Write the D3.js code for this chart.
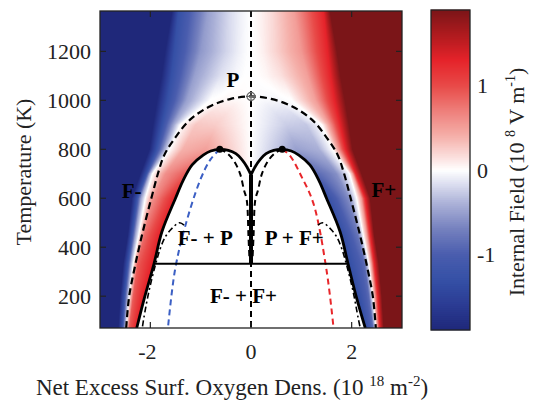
<!DOCTYPE html>
<html><head><meta charset="utf-8">
<script src="https://cdn.jsdelivr.net/npm/d3@7"></script>
<style>
body{margin:0;background:#fff}
svg{display:block}
text{font-family:"Liberation Serif","Times New Roman",serif;fill:#222}
</style>
</head><body>
<svg id="chart" width="534" height="401"></svg>
<script>
// ---------------- data ----------------
const xDomain = [-3, 3];
const yDomain = [70, 1365];
const cbDomain = [-1.89, 1.89];
const xTicks = [-2, 0, 2];
const yTicks = [200, 400, 600, 800, 1000, 1200];
const cbTicks = [-1, 0, 1];

// colour map (internal field, 1e8 V/m)
const cmapValues = [-1.89, -1.6, -1.3, -1.0, -0.7, -0.4, -0.15, 0, 0.15, 0.4, 0.7, 1.0, 1.3, 1.55, 1.89];
const cmapColors = ["#1f287a", "#2b3b93", "#3550a6", "#4a5dae", "#7480be", "#aab0d7", "#dfe1f1", "#ffffff",
                    "#fbe0de", "#f5b0aa", "#ee7f7b", "#e84a48", "#e5232a", "#b81c20", "#7b1518"];

// field, left half (x<=0); rows of [x, value] colour stops
const fieldT = [70, 200, 334, 450, 600, 700, 800, 900, 1000, 1100, 1200, 1365];
const fieldStops = [
  [[-2.64,-1.9],[-2.56,-1.3],[-2.51,-0.5],[-2.48,0],[-2.42,0.9],[-2.26,1.35]],
  [[-2.60,-1.9],[-2.52,-1.3],[-2.46,-0.5],[-2.42,0],[-2.34,0.9],[-2.12,1.35]],
  [[-2.54,-1.9],[-2.45,-1.3],[-2.39,-0.5],[-2.34,0],[-2.25,0.9],[-1.92,1.35]],
  [[-2.45,-1.9],[-2.37,-1.3],[-2.30,-0.5],[-2.23,0],[-2.12,0.8],[-1.78,1.35]],
  [[-2.37,-1.9],[-2.27,-1.3],[-2.19,-0.5],[-2.10,0],[-1.95,0.6],[-1.50,1.3]],
  [[-2.20,-1.9],[-2.08,-1.3],[-2.02,-0.5],[-1.96,0],[-1.70,0.6],[-1.30,0.9]],
  [[-2.02,-1.9],[-1.88,-1.3],[-1.73,-0.5],[-1.62,0],[-1.35,0.4],[-0.90,0.5]],
  [[-1.95,-1.9],[-1.77,-1.3],[-1.55,-0.5],[-1.41,0],[-1.10,0.28],[-0.70,0.25]],
  [[-1.87,-1.9],[-1.66,-1.3],[-1.28,-0.5],[-0.81,0],[-0.50,0.04],[-0.25,0.03]],
  [[-1.78,-1.9],[-1.58,-1.3],[-1.12,-0.5],[-0.60,-0.15],[-0.30,-0.04],[-0.10,0.0]],
  [[-1.71,-1.9],[-1.52,-1.3],[-1.00,-0.55],[-0.50,-0.22],[-0.25,-0.08],[-0.10,-0.02]],
  [[-1.57,-1.9],[-1.44,-1.3],[-0.85,-0.5],[-0.40,-0.17],[-0.20,-0.07],[-0.10,-0.03]]
];

// phase boundaries [x, T]
const solidLeft = [[-2.27,70],[-2.12,191],[-1.93,330],[-1.77,463],[-1.50,600],[-1.35,672],[-1.17,736],[-0.95,776],[-0.80,793],[-0.62,800],
                   [-0.45,796],[-0.30,782],[-0.18,758],[-0.08,728],[0,695]];
const solidRight = [[0,695],[0.08,728],[0.18,758],[0.30,782],[0.45,796],[0.62,800],[0.80,793],[0.95,776],[1.17,736],[1.35,672],
                    [1.50,600],[1.77,463],[1.93,330],[2.10,191],[2.27,70]];
const outerDashed = [[-2.48,70],[-2.42,200],[-2.30,327],[-2.15,463],[-1.98,600],[-1.85,700],[-1.72,778],[-1.51,846],[-1.21,921],
                     [-0.81,976],[-0.40,1006],[0,1016],[0.40,1006],[0.81,976],[1.21,921],[1.51,846],[1.72,778],[1.85,700],
                     [1.98,600],[2.15,463],[2.30,327],[2.42,200],[2.48,70]];
const innerDashedLeft = [[-0.62,800],[-0.50,788],[-0.35,756],[-0.22,702],[-0.14,634],[-0.085,593],[-0.05,443],[-0.03,350]];
const innerDashedRight = [[0.62,800],[0.50,788],[0.35,756],[0.22,702],[0.14,634],[0.085,593],[0.05,443],[0.03,350]];
const blueDashed = [[-0.62,800],[-0.80,760],[-1.01,674],[-1.31,484],[-1.51,307],[-1.65,70]];
const redDashed = [[0.62,800],[0.77,775],[1.00,690],[1.24,579],[1.50,307],[1.64,70]];
const dashDotLeft = [[-1.33,490],[-1.42,500],[-1.57,477],[-1.70,443],[-1.80,396],[-1.90,327],[-2.03,218],[-2.13,110],[-2.16,70]];
const dashDotRight = [[1.33,490],[1.42,500],[1.57,477],[1.70,443],[1.80,396],[1.90,327],[2.03,218],[2.13,110],[2.17,70]];
const zeroSolidT = [334, 695];
const tieLine = [[-1.93,332],[1.93,332]];
const peaks = [[-0.62,800],[0.62,800]];
const criticalPoint = [0, 1016];
const phaseLabels = [
  {text:"P", x:-0.36, T:1054},
  {text:"F-", x:-2.37, T:601},
  {text:"F+", x:2.64, T:605},
  {text:"F- + P", x:-0.91, T:409},
  {text:"P + F+", x:0.86, T:409},
  {text:"F- + F+", x:-0.15, T:172}
];

// ---------------- drawing ----------------
const svg = d3.select("#chart");
const L = 100, R = 402, TOP = 11, BOT = 328;
const x = d3.scaleLinear().domain(xDomain).range([L, R]);
const y = d3.scaleLinear().domain(yDomain).range([BOT, TOP]);
const cmap = d3.scaleLinear().domain(cmapValues).range(cmapColors).interpolate(d3.interpolateRgb).clamp(true);

// colour LUT
const lut = d3.range(512).map(i => d3.rgb(cmap(cbDomain[0] + (cbDomain[1]-cbDomain[0]) * i / 511)));
function colorOf(v){
  let i = Math.round((v - cbDomain[0]) / (cbDomain[1]-cbDomain[0]) * 511);
  return lut[Math.max(0, Math.min(511, i))];
}

// field raster
const W = R - L, H = BOT - TOP;
const cv = document.createElement("canvas");
cv.width = W; cv.height = H;
const ctx = cv.getContext("2d");
const img = ctx.createImageData(W, H);
for (let j = 0; j < H; j++) {
  const T = y.invert(TOP + j + 0.5);
  let k = d3.bisectRight(fieldT, T) - 1;
  k = Math.max(0, Math.min(fieldT.length - 2, k));
  let t = (T - fieldT[k]) / (fieldT[k+1] - fieldT[k]);
  t = Math.max(0, Math.min(1, t));
  const a = fieldStops[k], b = fieldStops[k+1];
  const st = [[-3, -1.9]].concat(a.map((s, i) => [s[0] + (b[i][0]-s[0])*t, s[1] + (b[i][1]-s[1])*t]), [[0, 0]]);
  for (let i = 0; i < W; i++) {
    const xv = x.invert(L + i + 0.5);
    const ax = -Math.abs(xv);
    let v = 0;
    for (let m = 0; m < st.length - 1; m++) {
      if (ax >= st[m][0] && ax <= st[m+1][0]) {
        const d = st[m+1][0] - st[m][0];
        const f = d > 0 ? (ax - st[m][0]) / d : 0;
        v = st[m][1] + (st[m+1][1] - st[m][1]) * f;
        break;
      }
    }
    if (xv > 0) v = -v;
    const c = colorOf(v);
    const p = (j * W + i) * 4;
    img.data[p] = c.r; img.data[p+1] = c.g; img.data[p+2] = c.b; img.data[p+3] = 255;
  }
}
ctx.putImageData(img, 0, 0);

svg.append("clipPath").attr("id", "plotclip").append("rect")
  .attr("x", L).attr("y", TOP).attr("width", W).attr("height", H);

const plot = svg.append("g").attr("clip-path", "url(#plotclip)");
plot.append("image").attr("x", L).attr("y", TOP).attr("width", W).attr("height", H)
  .attr("preserveAspectRatio", "none").attr("href", cv.toDataURL());

const line = d3.line().x(d => x(d[0])).y(d => y(d[1])).curve(d3.curveCatmullRom.alpha(0.5));

// two-phase interior (white)
plot.append("path").attr("d", line(solidLeft.concat(solidRight.slice(1))) + "Z").attr("fill", "#fff");

// x = 0 dashed line
plot.append("line").attr("x1", x(0)).attr("x2", x(0)).attr("y1", TOP).attr("y2", BOT)
  .attr("stroke", "#000").attr("stroke-width", 2).attr("stroke-dasharray", "6,4");
// thick solid x = 0 segment
plot.append("line").attr("x1", x(0)).attr("x2", x(0)).attr("y1", y(zeroSolidT[0])).attr("y2", y(zeroSolidT[1]))
  .attr("stroke", "#000").attr("stroke-width", 4);

// coloured dashed lines
plot.append("path").attr("d", line(blueDashed)).attr("fill", "none").attr("stroke", "#3b5fc4")
  .attr("stroke-width", 2).attr("stroke-dasharray", "6,4");
plot.append("path").attr("d", line(redDashed)).attr("fill", "none").attr("stroke", "#e8262a")
  .attr("stroke-width", 2).attr("stroke-dasharray", "6,4");

// dash-dot
[dashDotLeft, dashDotRight].forEach(dd => plot.append("path").attr("d", line(dd)).attr("fill", "none")
  .attr("stroke", "#000").attr("stroke-width", 1.6).attr("stroke-dasharray", "6,3,2,3"));

// outer dashed and inner dashed
plot.append("path").attr("d", line(outerDashed)).attr("fill", "none").attr("stroke", "#000")
  .attr("stroke-width", 2.2).attr("stroke-dasharray", "7,4");
[innerDashedLeft, innerDashedRight].forEach(dd => plot.append("path").attr("d", line(dd)).attr("fill", "none")
  .attr("stroke", "#000").attr("stroke-width", 2).attr("stroke-dasharray", "6,4"));

// solid boundaries
[solidLeft, solidRight].forEach(dd => plot.append("path").attr("d", line(dd)).attr("fill", "none")
  .attr("stroke", "#000").attr("stroke-width", 2.8));
plot.append("line").attr("x1", x(tieLine[0][0])).attr("x2", x(tieLine[1][0]))
  .attr("y1", y(tieLine[0][1])).attr("y2", y(tieLine[1][1])).attr("stroke", "#000").attr("stroke-width", 2);

// peak dots
plot.selectAll("circle.peak").data(peaks).join("circle").attr("class", "peak")
  .attr("cx", d => x(d[0])).attr("cy", d => y(d[1])).attr("r", 3.5).attr("fill", "#000");
// critical point marker
const cp = plot.append("g").attr("transform", `translate(${x(criticalPoint[0])},${y(criticalPoint[1])})`);
cp.append("circle").attr("r", 4).attr("fill", "none").attr("stroke", "#666").attr("stroke-width", 1.2);
cp.append("path").attr("d", "M-5,0H5M0,-5V5").attr("stroke", "#666").attr("stroke-width", 1.2);

// phase labels
svg.append("g").selectAll("text").data(phaseLabels).join("text")
  .attr("x", d => x(d.x)).attr("y", d => y(d.T)).attr("text-anchor", "middle")
  .attr("font-weight", "bold").attr("font-size", 21).style("fill", "#000").text(d => d.text);

// frame
svg.append("rect").attr("x", L).attr("y", TOP).attr("width", W).attr("height", H)
  .attr("fill", "none").attr("stroke", "#222").attr("stroke-width", 1.3);

// ticks (inward, all sides)
const tk = 6;
const axG = svg.append("g").attr("stroke", "#222").attr("stroke-width", 1.2);
xTicks.forEach(v => {
  axG.append("line").attr("x1", x(v)).attr("x2", x(v)).attr("y1", BOT).attr("y2", BOT - tk);
  axG.append("line").attr("x1", x(v)).attr("x2", x(v)).attr("y1", TOP).attr("y2", TOP + tk);
});
yTicks.forEach(v => {
  axG.append("line").attr("y1", y(v)).attr("y2", y(v)).attr("x1", L).attr("x2", L + tk);
  axG.append("line").attr("y1", y(v)).attr("y2", y(v)).attr("x1", R).attr("x2", R - tk);
});
svg.append("g").selectAll("text").data(xTicks).join("text")
  .attr("x", d => x(d) - (d < 0 ? 3 : 0)).attr("y", 359).attr("text-anchor", "middle").attr("font-size", 22)
  .text(d => d);
svg.append("g").selectAll("text").data(yTicks).join("text")
  .attr("x", 91).attr("y", d => y(d)).attr("dy", "0.35em").attr("text-anchor", "end").attr("font-size", 22)
  .text(d => d);

// axis titles
const xt = svg.append("text").attr("x", 232).attr("y", 395).attr("text-anchor", "middle").attr("font-size", 23);
xt.append("tspan").text("Net Excess Surf. Oxygen Dens. (10 ");
xt.append("tspan").attr("font-size", 15).attr("dy", -9).text("18");
xt.append("tspan").attr("dy", 9).text(" m");
xt.append("tspan").attr("font-size", 15).attr("dy", -9).text("-2");
xt.append("tspan").attr("dy", 9).text(")");

svg.append("text").attr("transform", "translate(31,172) rotate(-90)").attr("text-anchor", "middle")
  .attr("font-size", 22).text("Temperature (K)");

// colour bar
const cbL = 431, cbR = 470, cbT = 10, cbB = 330;
const cy = d3.scaleLinear().domain(cbDomain).range([cbB, cbT]);
const nSteps = 160;
const cbVals = d3.range(nSteps).map(i => cbDomain[0] + (cbDomain[1]-cbDomain[0]) * (i + 0.5) / nSteps);
const step = (cbB - cbT) / nSteps;
svg.append("g").selectAll("rect").data(cbVals).join("rect")
  .attr("x", cbL).attr("width", cbR - cbL).attr("y", d => cy(d) - step/2 - 0.3).attr("height", step + 0.6)
  .attr("fill", d => cmap(d));
svg.append("rect").attr("x", cbL).attr("y", cbT).attr("width", cbR - cbL).attr("height", cbB - cbT)
  .attr("fill", "none").attr("stroke", "#222").attr("stroke-width", 1.3);
cbTicks.forEach(v => {
  axG.append("line").attr("x1", cbL).attr("x2", cbL + 4).attr("y1", cy(v)).attr("y2", cy(v));
  axG.append("line").attr("x1", cbR).attr("x2", cbR - 4).attr("y1", cy(v)).attr("y2", cy(v));
});
svg.append("g").selectAll("text").data(cbTicks).join("text")
  .attr("x", 477).attr("y", d => cy(d)).attr("dy", "0.35em").attr("font-size", 22).text(d => d);

const ct = svg.append("text").attr("transform", "translate(524,182) rotate(-90)").attr("text-anchor", "middle")
  .attr("font-size", 22);
ct.append("tspan").text("Internal Field (10 ");
ct.append("tspan").attr("font-size", 14).attr("dy", -9).text("8");
ct.append("tspan").attr("dy", 9).text(" V m");
ct.append("tspan").attr("font-size", 14).attr("dy", -9).text("-1");
ct.append("tspan").attr("dy", 9).text(")");
</script>
</body></html>
